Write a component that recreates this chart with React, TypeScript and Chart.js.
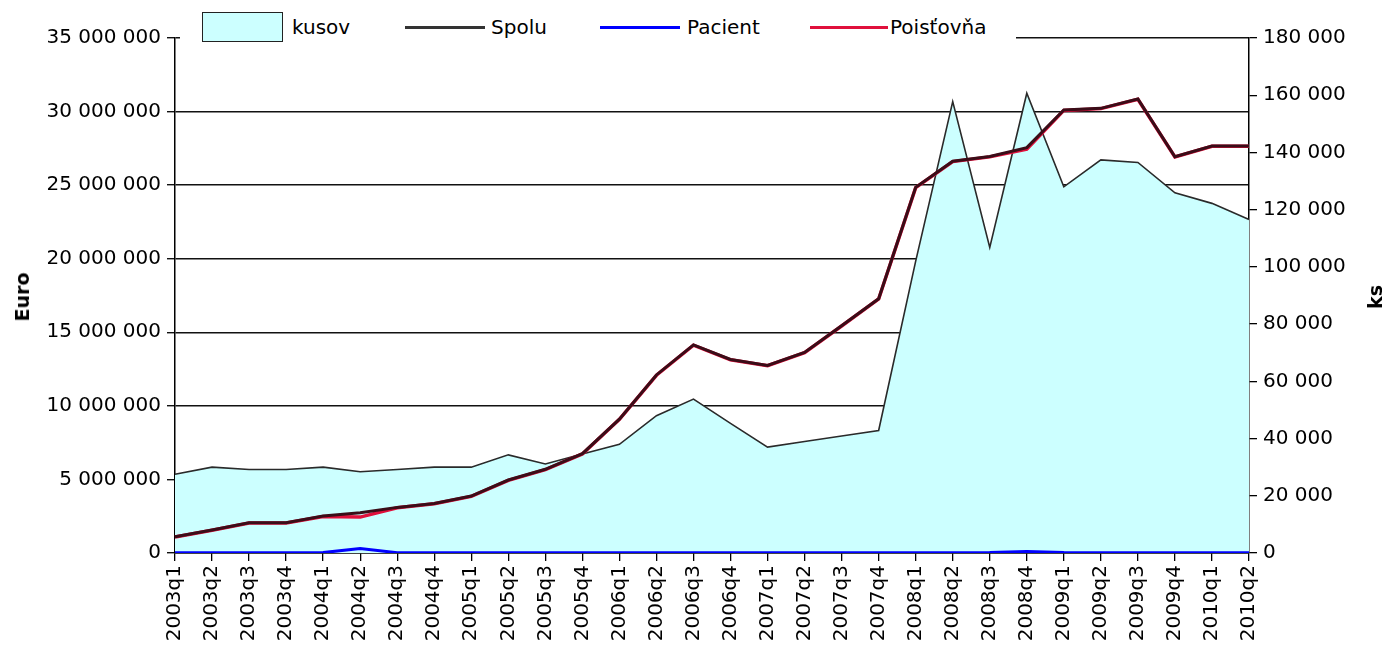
import React, { useEffect, useRef } from 'react';
import { Chart, registerables } from 'chart.js';

Chart.register(...registerables);

const categories = [
  '2003q1', '2003q2', '2003q3', '2003q4',
  '2004q1', '2004q2', '2004q3', '2004q4',
  '2005q1', '2005q2', '2005q3', '2005q4',
  '2006q1', '2006q2', '2006q3', '2006q4',
  '2007q1', '2007q2', '2007q3', '2007q4',
  '2008q1', '2008q2', '2008q3', '2008q4',
  '2009q1', '2009q2', '2009q3', '2009q4',
  '2010q1', '2010q2',
];

// kusov (ks, right axis)
const kusov = [
  27500, 30000, 29200, 29200,
  30000, 28400, 29200, 30000,
  30000, 34300, 31100, 34600,
  38000, 48000, 53800, 45300,
  37000, 39000, 40900, 42800,
  102000, 157800, 106800, 160700,
  128000, 137400, 136500, 125900,
  122200, 116600,
];

// Spolu (Euro, left axis)
const spolu = [
  1110000, 1560000, 2060000, 2060000,
  2510000, 2740000, 3100000, 3370000,
  3870000, 4960000, 5690000, 6750000,
  9100000, 12100000, 14140000, 13150000,
  12750000, 13630000, 15450000, 17280000,
  24850000, 26620000, 26950000, 27550000,
  30110000, 30220000, 30850000, 26930000,
  27660000, 27660000,
];

// Pacient (Euro, left axis)
const pacient = [
  20000, 20000, 20000, 20000,
  30000, 300000, 20000, 20000,
  20000, 20000, 20000, 20000,
  20000, 20000, 20000, 20000,
  20000, 20000, 20000, 20000,
  20000, 20000, 30000, 100000,
  30000, 20000, 20000, 20000,
  20000, 20000,
];

// Poisťovňa (Euro, left axis)
const poistovna = [
  1090000, 1540000, 2040000, 2040000,
  2480000, 2440000, 3080000, 3350000,
  3850000, 4940000, 5670000, 6730000,
  9080000, 12080000, 14120000, 13130000,
  12730000, 13610000, 15430000, 17260000,
  24830000, 26600000, 26920000, 27450000,
  30080000, 30200000, 30830000, 26910000,
  27640000, 27640000,
];

const euroMax = 35000000;
const euroStep = 5000000;
const ksMax = 180000;
const ksStep = 20000;

const FONT_FAMILY = '"DejaVu Sans", sans-serif';

const fmt = (v: number | string) =>
  String(v).replace(/\B(?=(\d{3})+(?!\d))/g, ' ');

export default function App() {
  const ref = useRef<HTMLCanvasElement>(null);

  useEffect(() => {
    if (!ref.current) return;
    const tickFont = { family: FONT_FAMILY, size: 20 };
    const chart = new Chart(ref.current, {
      type: 'line',
      data: {
        labels: categories,
        datasets: [
          {
            label: 'kusov',
            data: kusov,
            yAxisID: 'y1',
            fill: 'origin',
            backgroundColor: '#CCFFFF',
            borderColor: '#2a2a2a',
            borderWidth: 1.6,
            pointRadius: 0,
            tension: 0,
            order: 4,
          },
          {
            label: 'Spolu',
            data: spolu,
            yAxisID: 'y',
            fill: false,
            borderColor: '#3a0d18',
            borderWidth: 3,
            pointRadius: 0,
            tension: 0,
            order: 2,
          },
          {
            label: 'Pacient',
            data: pacient,
            yAxisID: 'y',
            fill: false,
            borderColor: '#0000FF',
            borderWidth: 3,
            pointRadius: 0,
            tension: 0,
            order: 1,
          },
          {
            label: 'Poisťovňa',
            data: poistovna,
            yAxisID: 'y',
            fill: false,
            borderColor: '#E0103C',
            borderWidth: 3.5,
            pointRadius: 0,
            tension: 0,
            order: 3,
          },
        ],
      },
      options: {
        animation: false,
        responsive: false,
        layout: { padding: { top: 38, left: 0, right: 0, bottom: 0 } },
        plugins: {
          legend: { display: false },
          tooltip: { enabled: false },
        },
        scales: {
          x: {
            offset: false,
            grid: {
              drawOnChartArea: false,
              drawTicks: true,
              tickLength: 8,
              color: '#000',
              lineWidth: 1.3,
            },
            border: { color: '#000', width: 1.5 },
            ticks: {
              autoSkip: false,
              minRotation: 90,
              maxRotation: 90,
              padding: 4,
              font: tickFont,
              color: '#000',
            },
            afterFit: (s: any) => {
              s.height = 93;
            },
          },
          y: {
            position: 'left',
            min: 0,
            max: euroMax,
            ticks: {
              stepSize: euroStep,
              callback: (v: any) => fmt(v),
              font: tickFont,
              color: '#000',
              padding: 6,
            },
            grid: { color: '#111', lineWidth: 1.4, tickLength: 8 },
            border: { color: '#000', width: 1.5 },
            afterFit: (s: any) => {
              s.width = 175;
            },
          },
          y1: {
            position: 'right',
            min: 0,
            max: ksMax,
            ticks: {
              stepSize: ksStep,
              callback: (v: any) => fmt(v),
              font: tickFont,
              color: '#000',
              padding: 6,
            },
            grid: { drawOnChartArea: false, color: '#000', lineWidth: 1.3, tickLength: 8 },
            border: { color: '#000', width: 1.5 },
            afterFit: (s: any) => {
              s.width = 136;
            },
          },
        },
      },
    } as any);
    return () => chart.destroy();
  }, []);

  const textStyle: React.CSSProperties = {
    position: 'absolute',
    fontFamily: FONT_FAMILY,
    fontSize: 20,
    color: '#000',
    lineHeight: '24px',
    top: 15,
    whiteSpace: 'nowrap',
  };
  const lineStyle = (left: number, width: number, color: string): React.CSSProperties => ({
    position: 'absolute',
    left,
    width,
    top: 26,
    height: 3,
    background: color,
  });

  return (
    <div
      style={{
        position: 'fixed',
        left: 0,
        top: 0,
        width: 1385,
        height: 646,
        background: '#fff',
        overflow: 'hidden',
      }}
    >
      <canvas ref={ref} width={1385} height={646} style={{ display: 'block' }} />
      {/* legend */}
      <div
        style={{
          position: 'absolute',
          left: 180,
          top: 8,
          width: 836,
          height: 38,
          background: '#fff',
        }}
      />
      <div
        style={{
          position: 'absolute',
          left: 202,
          top: 12,
          width: 79,
          height: 28,
          background: '#CCFFFF',
          border: '1.5px solid #222',
        }}
      />
      <div style={{ ...textStyle, left: 292 }}>kusov</div>
      <div style={lineStyle(405, 80, '#333333')} />
      <div style={{ ...textStyle, left: 491 }}>Spolu</div>
      <div style={lineStyle(600, 80, '#0000FF')} />
      <div style={{ ...textStyle, left: 687 }}>Pacient</div>
      <div style={lineStyle(810, 78, '#E0103C')} />
      <div style={{ ...textStyle, left: 890 }}>Poisťovňa</div>
      {/* axis titles */}
      <div
        style={{
          position: 'absolute',
          left: 22,
          top: 297,
          transform: 'translate(-50%, -50%) rotate(-90deg)',
          fontFamily: FONT_FAMILY,
          fontWeight: 'bold',
          fontSize: 19,
          color: '#000',
          whiteSpace: 'nowrap',
        }}
      >
        Euro
      </div>
      <div
        style={{
          position: 'absolute',
          left: 1375,
          top: 297,
          transform: 'translate(-50%, -50%) rotate(-90deg)',
          fontFamily: FONT_FAMILY,
          fontWeight: 'bold',
          fontSize: 19,
          color: '#000',
          whiteSpace: 'nowrap',
        }}
      >
        ks
      </div>
    </div>
  );
}
